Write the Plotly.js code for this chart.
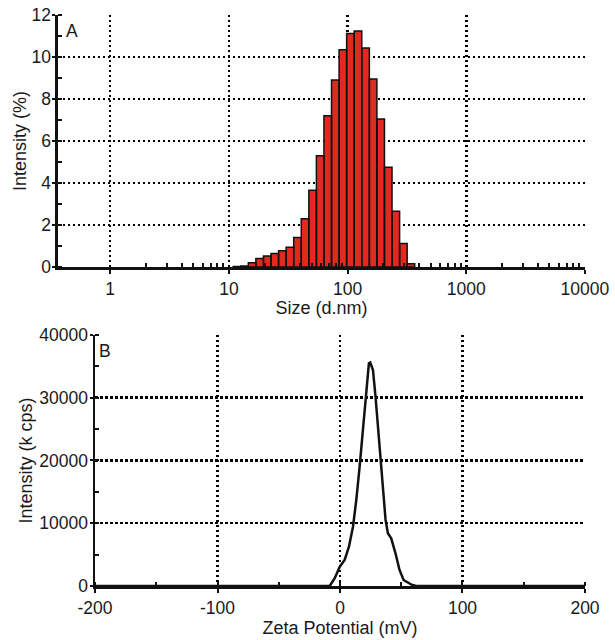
<!DOCTYPE html>
<html>
<head>
<meta charset="utf-8">
<script src="https://cdn.plot.ly/plotly-3.0.1.min.js"></script>
<style>
html,body{margin:0;padding:0;background:#fff;}
#chart{width:615px;height:640px;}
</style>
</head>
<body>
<div id="chart"></div>
<script>
// ---- Panel A: size distribution (Malvern log-spaced bins) ----
var sizeNm = [11.7, 13.54, 15.69, 18.17, 21.04, 24.36, 28.21, 32.67, 37.84, 43.82, 50.75, 58.77, 68.06, 78.82, 91.28, 105.7, 122.4, 141.8, 164.2, 190.1, 220.2, 255, 295.3, 342];
var intensityPct = [0.02, 0.05, 0.2, 0.4, 0.52, 0.64, 0.77, 0.94, 1.4, 2.3, 3.65, 5.3, 7.2, 8.9, 10.35, 11.12, 11.24, 10.43, 8.95, 7.05, 4.75, 2.65, 1.12, 0.15];
var sizeTickVals = [1, 10, 100, 1000, 10000];
var sizeTickText = ["1", "10", "100", "1000", "10000"];
var sizeMinorVals = [2,3,4,5,6,7,8,9,20,30,40,50,60,70,80,90,200,300,400,500,600,700,800,900,2000,3000,4000,5000,6000,7000,8000,9000];

// ---- Panel B: zeta potential ----
var zetaMv = [-200, -8.4, -4.3, -0.2, 3.8, 7.3, 10.6, 13.3, 16, 18.7, 21.5, 23.6, 24.7, 26.9, 29, 31.8, 34.5, 37.2, 39.1, 41.8, 45.3, 48.6, 51.9, 55.4, 58.9, 62.2, 200];
var zetaKcps = [0, 0, 1230, 3080, 4140, 6260, 9450, 13700, 19000, 24860, 31230, 35490, 35600, 34420, 30170, 23270, 16370, 10520, 8400, 7600, 5210, 2550, 960, 530, 160, 0, 0];
var zetaTickVals = [-200, -100, 0, 100, 200];
var zetaTickText = ["-200", "-100", "0", "100", "200"];
var kcpsTickVals = [0, 10000, 20000, 30000, 40000];
var kcpsTickText = ["0", "10000", "20000", "30000", "40000"];

// Build bar outlines (each bin as a closed polygon) from bin centres
var binStep = Math.log10(10000 / 0.4) / 69; // Malvern bin spacing in log10 units
var bx = [], by = [];
for (var i = 0; i < sizeNm.length; i++) {
  var lo = sizeNm[i] / Math.pow(10, binStep / 2);
  var hi = sizeNm[i] * Math.pow(10, binStep / 2);
  bx.push(lo, lo, hi, hi, lo, null);
  by.push(0, intensityPct[i], intensityPct[i], 0, 0, null);
}

var FONT = "Liberation Sans, Arial, sans-serif";
var TXT = "#1a1a1a";
var TICKF = {size: 17.5, family: FONT, color: TXT};
var TITLEF = {size: 18, family: FONT, color: TXT};

var traces = [
  {
    x: bx, y: by, xaxis: "x", yaxis: "y",
    type: "scatter", mode: "lines", fill: "toself",
    fillcolor: "#e2291f",
    line: {color: "#111", width: 1.5},
    hoverinfo: "skip", showlegend: false
  },
  {
    x: zetaMv, y: zetaKcps, xaxis: "x2", yaxis: "y2",
    type: "scatter", mode: "lines",
    line: {color: "#111", width: 2.5},
    showlegend: false
  }
];

var grid = {showgrid: true, gridcolor: "#000", gridwidth: 2.5, griddash: "2.5px,2.5px", zeroline: false};

var layout = {
  width: 615, height: 640,
  margin: {l: 0, r: 0, t: 0, b: 0},
  paper_bgcolor: "#fff", plot_bgcolor: "#fff",
  font: {family: FONT, color: TXT, size: 17},
  showlegend: false,
  xaxis: Object.assign({}, grid, {
    domain: [0.0943, 0.9512], anchor: "y",
    type: "log", range: [-0.44, 4.0005],
    tickmode: "array", tickvals: sizeTickVals, ticktext: sizeTickText,
    ticks: "outside", ticklen: 4, tickwidth: 2, tickcolor: "#111",
    showline: true, linecolor: "#111", linewidth: 2.5,
    minor: {tickmode: "array", tickvals: sizeMinorVals, ticks: "inside", ticklen: 4, tickwidth: 2, tickcolor: "#111", showgrid: false},
    tickfont: TICKF,
    title: {text: "Size (d.nm)", font: TITLEF, standoff: 2}
  }),
  yaxis: Object.assign({}, grid, {
    domain: [0.5828, 0.9766], anchor: "x",
    range: [0, 12], dtick: 2,
    ticks: "outside", ticklen: 3, tickwidth: 2, tickcolor: "#111",
    ticklabelstandoff: -2,
    showline: true, linecolor: "#111", linewidth: 2.5,
    minor: {dtick: 1, ticks: "inside", ticklen: 4, tickwidth: 2, tickcolor: "#111", showgrid: false},
    tickfont: TICKF,
    title: {text: "Intensity (%)", font: TITLEF, standoff: 0}
  }),
  xaxis2: Object.assign({}, grid, {
    domain: [0.1545, 0.9512], anchor: "y2",
    range: [-200, 200],
    tickmode: "array", tickvals: zetaTickVals, ticktext: zetaTickText,
    ticks: "outside", ticklen: 4, tickwidth: 2, tickcolor: "#111",
    showline: true, linecolor: "#111", linewidth: 3,
    minor: {dtick: 50, ticks: "inside", ticklen: 4, tickwidth: 2, tickcolor: "#111", showgrid: false},
    tickfont: TICKF,
    title: {text: "Zeta Potential (mV)", font: TITLEF, standoff: 4}
  }),
  yaxis2: Object.assign({}, grid, {
    domain: [0.0844, 0.4766], anchor: "x2",
    range: [0, 40000],
    tickmode: "array", tickvals: kcpsTickVals, ticktext: kcpsTickText,
    ticks: "outside", ticklen: 3, tickwidth: 2, tickcolor: "#111",
    ticklabelstandoff: -2,
    showline: true, linecolor: "#111", linewidth: 2.5,
    minor: {dtick: 5000, ticks: "inside", ticklen: 4, tickwidth: 2, tickcolor: "#111", showgrid: false},
    tickfont: TICKF,
    title: {text: "Intensity (k cps)", font: TITLEF, standoff: 2}
  }),
  annotations: [
    {text: "A", xref: "x domain", yref: "y domain", x: 0.012, y: 0.985, xanchor: "left", yanchor: "top", showarrow: false, font: TICKF},
    {text: "B", xref: "x2 domain", yref: "y2 domain", x: 0.005, y: 0.985, xanchor: "left", yanchor: "top", showarrow: false, font: TICKF}
  ]
};

Plotly.newPlot("chart", traces, layout, {displayModeBar: false, staticPlot: true});
</script>
</body>
</html>
